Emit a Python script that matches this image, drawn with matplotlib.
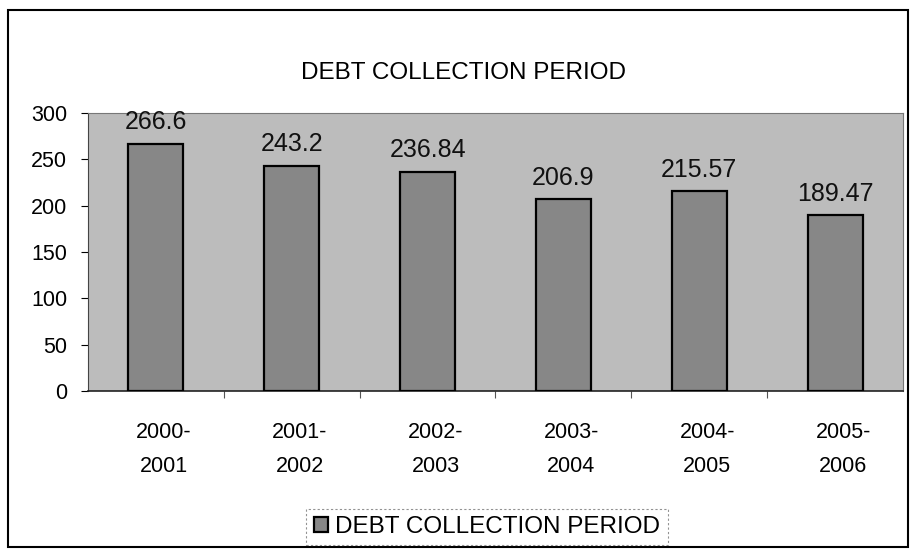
import matplotlib
matplotlib.use("Agg")
import matplotlib.pyplot as plt
import matplotlib.transforms as mtransforms
from matplotlib.patches import Rectangle
import numpy as np

categories = ["2000-\n2001", "2001-\n2002", "2002-\n2003", "2003-\n2004", "2004-\n2005", "2005-\n2006"]
values = [266.6, 243.2, 236.84, 206.9, 215.57, 189.47]
value_labels = ["266.6", "243.2", "236.84", "206.9", "215.57", "189.47"]
yticks = [0, 50, 100, 150, 200, 250, 300]
series_name = "DEBT COLLECTION PERIOD"

plt.rcParams['font.family'] = ['Liberation Sans', 'DejaVu Sans']

W, H = 911, 559
fig = plt.figure(figsize=(W / 100, H / 100), dpi=100)
fig.patch.set_facecolor('white')

left, right, top, bottom = 88, 903, 113, 391
ax = fig.add_axes([left / W, 1 - bottom / H, (right - left) / W, (bottom - top) / H])
ax.set_facecolor('#bcbcbc')

x = np.arange(len(categories))
bars = ax.bar(x, values, width=0.405, color='#878787', edgecolor='black', linewidth=1.6,
              label=series_name, zorder=3)
ax.set_xlim(-0.5, len(categories) - 0.5)
ax.set_ylim(0, 300)

for xi, v, lab in zip(x, values, value_labels):
    ax.annotate(lab, (xi, v), xytext=(0, 7), textcoords='offset points',
                ha='center', va='bottom', fontsize=18, color='#111111', zorder=4)

ax.set_yticks(yticks)
ax.set_yticklabels([str(t) for t in yticks], fontsize=15.5)
ax.tick_params(axis='y', direction='out', length=5, width=0.8, pad=10, colors='black')

ax.set_xticks(x)
ax.set_xticklabels(categories, fontsize=15.5, linespacing=1.85)
ax.tick_params(axis='x', which='major', length=0, pad=22)
ax.set_xticks(np.arange(0.5, len(categories) - 0.5, 1), minor=True)
ax.tick_params(axis='x', which='minor', direction='out', length=5, width=0.8, color='#555555')
offset = mtransforms.ScaledTranslation(8 / 100, 0, fig.dpi_scale_trans)
for lbl in ax.get_xticklabels():
    lbl.set_transform(lbl.get_transform() + offset)

for side in ['top', 'right']:
    ax.spines[side].set_color('#777777')
    ax.spines[side].set_linewidth(0.8)
ax.spines['left'].set_color('#444444')
ax.spines['bottom'].set_color('#222222')
ax.spines['bottom'].set_linewidth(1.2)

fig.text(463 / W, 1 - 73 / H, series_name, ha='center', va='center', fontsize=17.5)

leg = fig.legend(handles=[bars], labels=[series_name], loc='center',
                 bbox_to_anchor=(487 / W, 1 - 527 / H), fontsize=17.5, frameon=True,
                 fancybox=False, handlelength=0.6, handleheight=0.6, handletextpad=0.3,
                 borderpad=0.3)
frame = leg.get_frame()
frame.set_edgecolor('#777777')
frame.set_linestyle((0, (2, 2)))
frame.set_linewidth(0.8)

fig.add_artist(Rectangle((8 / W, 1 - 547 / H), 900 / W, 537 / H, transform=fig.transFigure,
                         fill=False, edgecolor='black', linewidth=1.5))

fig.savefig('out.png', dpi=100)
